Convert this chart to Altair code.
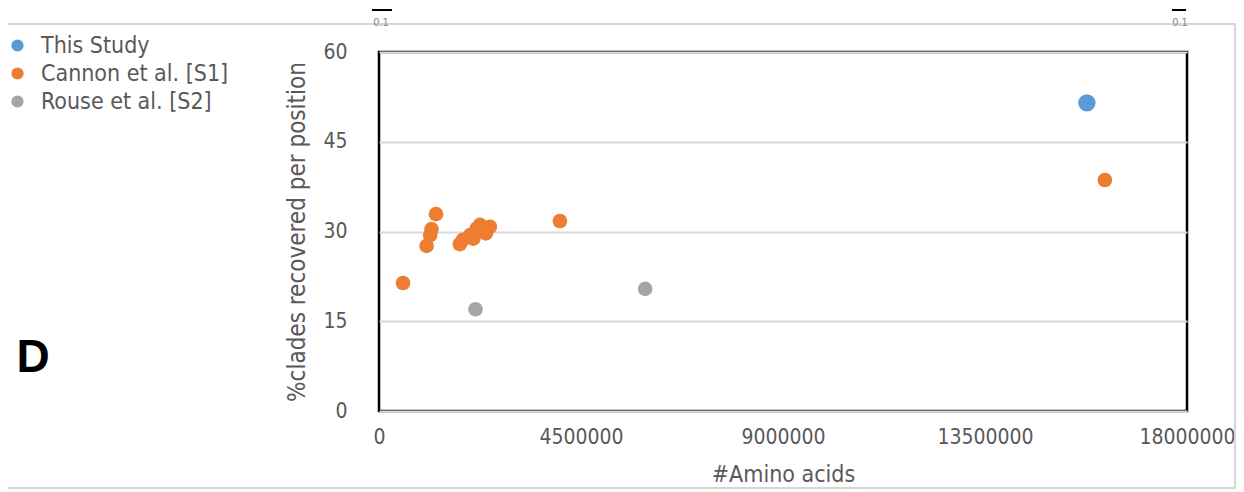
import altair as alt
import pandas as pd

# ---- data ----
series_names = ["This Study", "Cannon et al. [S1]", "Rouse et al. [S2]"]
series_colors = ["#5B9BD5", "#ED7D31", "#A5A5A5"]

study_x = [15770000]
study_y = [51.5]

cannon_x = [535000, 1060000, 1140000, 1170000, 1270000, 1800000, 1870000,
            2030000, 2100000, 2180000, 2250000, 2380000, 2470000, 4030000, 16170000]
cannon_y = [21.4, 27.6, 29.4, 30.4, 32.9, 27.9, 28.6,
            29.4, 28.8, 30.5, 31.1, 29.7, 30.8, 31.75, 38.6]

rouse_x = [2150000, 5930000]
rouse_y = [17.0, 20.4]

x_ticks = [0, 4500000, 9000000, 13500000, 18000000]
y_ticks = [0, 15, 30, 45, 60]

rows = []
for xs, ys, name, sz, od in [(cannon_x, cannon_y, series_names[1], 215, 1),
                             (rouse_x, rouse_y, series_names[2], 215, 2),
                             (study_x, study_y, series_names[0], 300, 3)]:
    for a, b in zip(xs, ys):
        rows.append({"aa": a, "pct": b, "series": name, "sz": sz, "od": od})
df = pd.DataFrame(rows)

FONT = "DejaVu Sans Condensed, DejaVu Sans"
TXT = "#595959"
W, H = 808, 359

points = alt.Chart(df).mark_circle(opacity=1).encode(
    x=alt.X("aa:Q", scale=alt.Scale(domain=[0, 18000000], nice=False),
            axis=alt.Axis(values=x_ticks, format="d", title="#Amino acids",
                          grid=False, ticks=False, domain=False, labelFlush=False,
                          labelPadding=15, titlePadding=16, titleFontSize=23)),
    y=alt.Y("pct:Q", scale=alt.Scale(domain=[0, 60], nice=False),
            axis=alt.Axis(values=y_ticks, title="%clades recovered per position",
                          grid=True, ticks=False, domain=False, labelFlush=False,
                          labelPadding=32, titlePadding=13, titleFontSize=24)),
    color=alt.Color("series:N", scale=alt.Scale(domain=series_names, range=series_colors),
                    legend=alt.Legend(orient="none", legendX=-373, legendY=-18, title=None,
                                      symbolType="circle", symbolSize=150, symbolOpacity=1,
                                      labelFontSize=23, labelColor=TXT, labelFont=FONT,
                                      labelLimit=400, rowPadding=4, labelOffset=12,
                                      padding=0)),
    size=alt.Size("sz:Q", scale=None, legend=None),
    order=alt.Order("od:Q"),
)

one = pd.DataFrame({"k": [0]})

frame = alt.Chart(one).mark_rect(fillOpacity=0, stroke="#D6D6D6", strokeWidth=2).encode(
    x=alt.value(-377), x2=alt.value(856), y=alt.value(-28), y2=alt.value(436))

panel_letter = alt.Chart(one).mark_text(text="D", font="Liberation Sans", fontWeight="bold",
                                        fontSize=46, color="black").encode(
    x=alt.value(-346), y=alt.value(306))

top_labels = alt.Chart(one).mark_text(text="0.1", fontSize=11, color="#888888",
                                      font=FONT).encode(x=alt.value(2), y=alt.value(-29))
top_labels2 = alt.Chart(one).mark_text(text="0.1", fontSize=11, color="#888888",
                                       font=FONT).encode(x=alt.value(801), y=alt.value(-29))
bar1 = alt.Chart(one).mark_rule(color="black", strokeWidth=2).encode(
    x=alt.value(-7), x2=alt.value(13), y=alt.value(-42))
bar2 = alt.Chart(one).mark_rule(color="black", strokeWidth=2).encode(
    x=alt.value(793), x2=alt.value(807), y=alt.value(-42))

chart = alt.layer(frame, points, panel_letter, top_labels, top_labels2, bar1, bar2).properties(
    width=W, height=H,
    autosize=alt.AutoSizeParams(type="none"),
    padding={"left": 371, "top": 44, "right": 49, "bottom": 78},
).configure_view(stroke="black", strokeWidth=2.5).configure_axis(
    labelFont=FONT, titleFont=FONT, labelFontSize=21,
    labelColor=TXT, titleColor=TXT, titleFontWeight="normal",
    gridColor="#D9D9D9", gridWidth=2,
)

chart.save("out.html", embed_options={"renderer": "svg", "actions": False})
